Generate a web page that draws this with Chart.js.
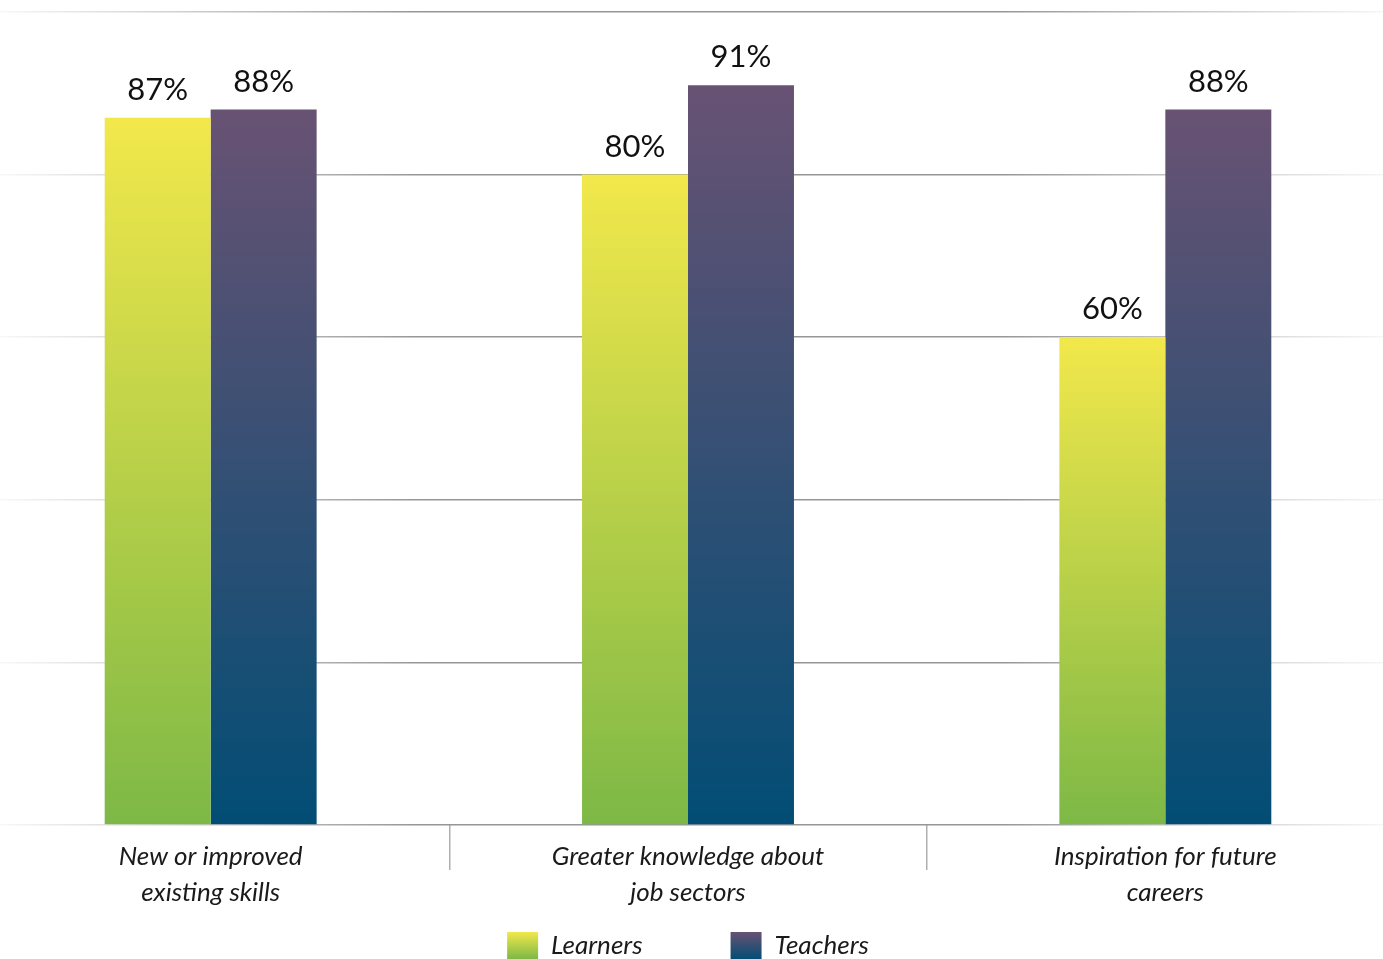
<!DOCTYPE html>
<html>
<head>
<meta charset="utf-8">
<script src="https://cdn.jsdelivr.net/npm/chart.js@4.4.1/dist/chart.umd.min.js"></script>
<style>
  html, body { margin: 0; padding: 0; background: #fff; overflow: hidden; }
  #wrap { position: absolute; left: -28px; top: 0; width: 1432px; height: 969px; }
</style>
</head>
<body>
<div id="wrap"><canvas id="chart"></canvas></div>
<script>
// DATA
const categories = [
  ['New or improved', 'existing skills'],
  ['Greater knowledge about', 'job sectors'],
  ['Inspiration for future', 'careers']
];
const learners = [87, 80, 60];
const teachers = [88, 91, 88];
const yTicks = [0, 20, 40, 60, 80, 100];

const FONT = 'Lato, "Noto Sans", sans-serif';

// vertical gradient for each bar, from its top to the baseline
function barFill(top, bottom) {
  return function (c) {
    const y = c.chart.scales.y;
    if (!y || c.type !== 'data') return top;
    const yTop = y.getPixelForValue(c.raw);
    const yBot = y.getPixelForValue(0);
    if (!isFinite(yTop) || !isFinite(yBot)) return top;
    const g = c.chart.ctx.createLinearGradient(0, yTop, 0, yBot);
    g.addColorStop(0, top);
    g.addColorStop(1, bottom);
    return g;
  };
}

// grid lines fade out towards the left and right ends
function gridFade(c) {
  const w = c.chart.width;
  const g = c.chart.ctx.createLinearGradient(0, 0, w, 0);
  g.addColorStop(0, 'rgba(160,160,160,0)');
  g.addColorStop(43 / w, 'rgba(160,160,160,0.12)');
  g.addColorStop(448 / w, 'rgba(150,150,150,1)');
  g.addColorStop(1028 / w, 'rgba(150,150,150,1)');
  g.addColorStop(1403 / w, 'rgba(160,160,160,0.12)');
  g.addColorStop(1, 'rgba(160,160,160,0)');
  return g;
}

const COLORS = {
  learners: ['#f2e84b', '#7db846'],
  teachers: ['#685273', '#024d75']
};

const valueLabels = {
  id: 'valueLabels',
  afterDatasetsDraw(chart) {
    const ctx = chart.ctx;
    ctx.save();
    ctx.font = '31px ' + FONT;
    ctx.fillStyle = '#111';
    ctx.textAlign = 'center';
    ctx.textBaseline = 'alphabetic';
    chart.data.datasets.forEach((ds, i) => {
      chart.getDatasetMeta(i).data.forEach((bar, j) => {
        ctx.fillText(ds.data[j] + '%', bar.x, bar.y - 18);
      });
    });
    ctx.restore();
  }
};

const legendFill = {
  id: 'legendFill',
  beforeDraw(chart) {
    const lg = chart.legend;
    if (!lg || !lg.legendHitBoxes) return;
    const keys = ['learners', 'teachers'];
    lg.legendItems.forEach((item, i) => {
      const hb = lg.legendHitBoxes[i];
      if (!hb) return;
      const g = chart.ctx.createLinearGradient(0, hb.top, 0, hb.top + hb.height);
      g.addColorStop(0, COLORS[keys[i]][0]);
      g.addColorStop(1, COLORS[keys[i]][1]);
      item.fillStyle = g;
    });
  }
};

const ctx = document.getElementById('chart');

const myChart = new Chart(ctx, {
  type: 'bar',
  data: {
    labels: categories,
    datasets: [
      {
        label: 'Learners',
        data: learners,
        backgroundColor: barFill(COLORS.learners[0], COLORS.learners[1]),
        borderWidth: 0,
        categoryPercentage: 0.444,
        barPercentage: 1.0
      },
      {
        label: 'Teachers',
        data: teachers,
        backgroundColor: barFill(COLORS.teachers[0], COLORS.teachers[1]),
        borderWidth: 0,
        categoryPercentage: 0.444,
        barPercentage: 1.0
      }
    ]
  },
  options: {
    responsive: true,
    maintainAspectRatio: false,
    animation: false,
    layout: { padding: { top: 12, left: 0, right: 0, bottom: 0 } },
    scales: {
      x: {
        border: { display: false },
        grid: {
          drawOnChartArea: false,
          drawTicks: true,
          tickLength: 45,
          color: '#b0b0b0',
          lineWidth: 1.5
        },
        ticks: {
          color: '#1a1a1a',
          padding: -31,
          font: { family: FONT, size: 26, style: 'italic', weight: 'normal', lineHeight: 1.38 }
        },
        afterFit(scale) {
          // keep the axis box short so the legend sits close, let labels spill below it
          scale.height = 19;
          scale._computeLabelArea = () => undefined;
        }
      },
      y: {
        min: 0,
        max: 100,
        afterBuildTicks(scale) { scale.ticks = yTicks.map(v => ({ value: v })); },
        border: { display: false },
        grid: { drawTicks: false, color: gridFade, lineWidth: 1.5 },
        ticks: { display: false },
        afterFit(scale) { scale.width = 0; }
      }
    },
    plugins: {
      legend: {
        position: 'bottom',
        labels: {
          boxWidth: 31,
          boxHeight: 27,
          padding: 88,
          color: '#1a1a1a',
          font: { family: FONT, size: 26, style: 'italic', weight: 'normal' }
        }
      },
      tooltip: { enabled: false }
    }
  },
  plugins: [valueLabels, legendFill]
});
</script>
</body>
</html>
